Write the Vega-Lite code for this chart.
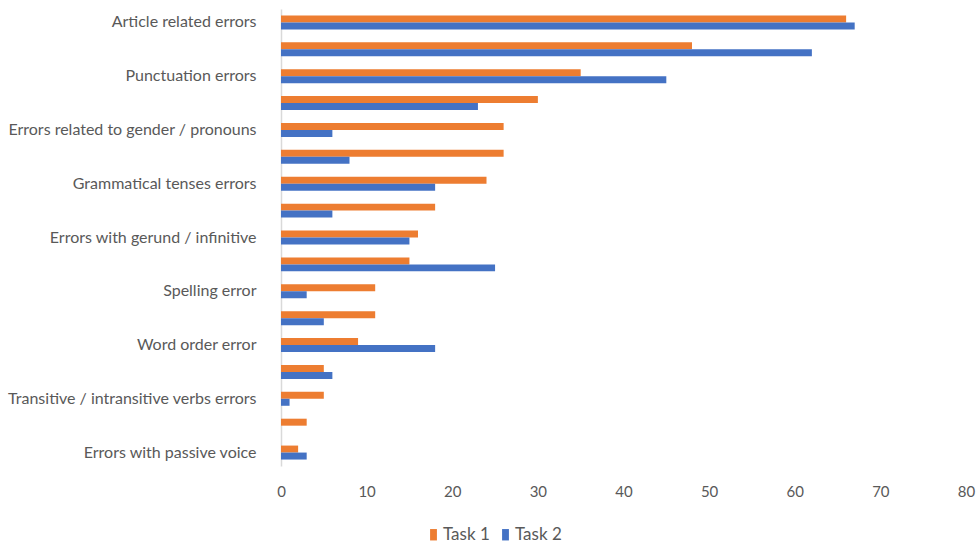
{
  "$schema": "https://vega.github.io/schema/vega-lite/v6.json",
  "width": 685,
  "height": 457,
  "autosize": {"type": "none"},
  "padding": {"left": 281, "top": 9, "right": 11, "bottom": 77},
  "background": "white",
  "config": {
    "view": {"stroke": null},
    "font": "Lato",
    "axis": {"labelColor": "#595959", "labelFont": "Lato"},
    "legend": {"labelColor": "#595959", "labelFont": "Lato"}
  },
  "data": {
    "values": [
      {"order": 1, "category": "Article related errors", "task": "Task 1", "count": 66},
      {"order": 1, "category": "Article related errors", "task": "Task 2", "count": 67},
      {"order": 2, "category": "#2", "task": "Task 1", "count": 48},
      {"order": 2, "category": "#2", "task": "Task 2", "count": 62},
      {"order": 3, "category": "Punctuation errors", "task": "Task 1", "count": 35},
      {"order": 3, "category": "Punctuation errors", "task": "Task 2", "count": 45},
      {"order": 4, "category": "#4", "task": "Task 1", "count": 30},
      {"order": 4, "category": "#4", "task": "Task 2", "count": 23},
      {"order": 5, "category": "Errors related to gender / pronouns", "task": "Task 1", "count": 26},
      {"order": 5, "category": "Errors related to gender / pronouns", "task": "Task 2", "count": 6},
      {"order": 6, "category": "#6", "task": "Task 1", "count": 26},
      {"order": 6, "category": "#6", "task": "Task 2", "count": 8},
      {"order": 7, "category": "Grammatical tenses errors", "task": "Task 1", "count": 24},
      {"order": 7, "category": "Grammatical tenses errors", "task": "Task 2", "count": 18},
      {"order": 8, "category": "#8", "task": "Task 1", "count": 18},
      {"order": 8, "category": "#8", "task": "Task 2", "count": 6},
      {"order": 9, "category": "Errors with gerund / infinitive", "task": "Task 1", "count": 16},
      {"order": 9, "category": "Errors with gerund / infinitive", "task": "Task 2", "count": 15},
      {"order": 10, "category": "#10", "task": "Task 1", "count": 15},
      {"order": 10, "category": "#10", "task": "Task 2", "count": 25},
      {"order": 11, "category": "Spelling error", "task": "Task 1", "count": 11},
      {"order": 11, "category": "Spelling error", "task": "Task 2", "count": 3},
      {"order": 12, "category": "#12", "task": "Task 1", "count": 11},
      {"order": 12, "category": "#12", "task": "Task 2", "count": 5},
      {"order": 13, "category": "Word order error", "task": "Task 1", "count": 9},
      {"order": 13, "category": "Word order error", "task": "Task 2", "count": 18},
      {"order": 14, "category": "#14", "task": "Task 1", "count": 5},
      {"order": 14, "category": "#14", "task": "Task 2", "count": 6},
      {"order": 15, "category": "Transitive / intransitive verbs errors", "task": "Task 1", "count": 5},
      {"order": 15, "category": "Transitive / intransitive verbs errors", "task": "Task 2", "count": 1},
      {"order": 16, "category": "#16", "task": "Task 1", "count": 3},
      {"order": 16, "category": "#16", "task": "Task 2", "count": 0},
      {"order": 17, "category": "Errors with passive voice", "task": "Task 1", "count": 2},
      {"order": 17, "category": "Errors with passive voice", "task": "Task 2", "count": 3}
    ]
  },
  "mark": {"type": "bar", "cornerRadius": 0},
  "encoding": {
    "y": {
      "field": "category",
      "type": "nominal",
      "sort": {"field": "order", "op": "min", "order": "ascending"},
      "scale": {"paddingInner": 0.48, "paddingOuter": 0.24},
      "axis": {
        "title": null,
        "ticks": false,
        "domainColor": "#d9d9d9",
        "domainWidth": 1.5,
        "labelFontSize": 16,
        "labelPadding": 25,
        "labelLimit": 300,
        "labelExpr": "slice(datum.label, 0, 1) == '#' ? '' : datum.label"
      }
    },
    "yOffset": {
      "field": "task",
      "type": "nominal",
      "sort": ["Task 1", "Task 2"],
      "scale": {"paddingInner": 0, "paddingOuter": 0}
    },
    "x": {
      "field": "count",
      "type": "quantitative",
      "scale": {"domain": [0, 80], "nice": false},
      "axis": {
        "title": null,
        "values": [0, 10, 20, 30, 40, 50, 60, 70, 80],
        "grid": false,
        "domain": false,
        "ticks": false,
        "labelFlush": false,
        "labelFontSize": 15,
        "labelPadding": 18
      }
    },
    "color": {
      "field": "task",
      "type": "nominal",
      "scale": {"domain": ["Task 1", "Task 2"], "range": ["#ED7D31", "#4472C4"]},
      "legend": {
        "title": null,
        "orient": "none",
        "direction": "horizontal",
        "legendX": 144,
        "legendY": 517,
        "symbolType": "M-0.6,-1H0.6V1H-0.6Z",
        "symbolSize": 130,
        "symbolStrokeWidth": 0,
        "labelFontSize": 17,
        "labelOffset": 1,
        "columnPadding": 7
      }
    }
  }
}
